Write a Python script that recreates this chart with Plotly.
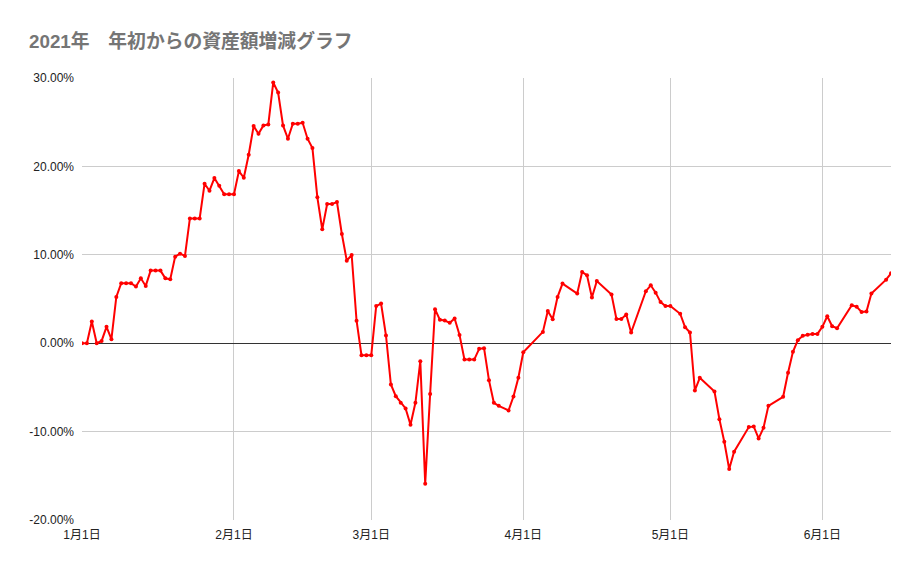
import plotly.graph_objects as go

dates = [
    "2021-01-01", "2021-01-02", "2021-01-03", "2021-01-04", "2021-01-05", "2021-01-06", "2021-01-07",
    "2021-01-08", "2021-01-09", "2021-01-10", "2021-01-11", "2021-01-12", "2021-01-13", "2021-01-14",
    "2021-01-15", "2021-01-16", "2021-01-17", "2021-01-18", "2021-01-19", "2021-01-20", "2021-01-21",
    "2021-01-22", "2021-01-23", "2021-01-24", "2021-01-25", "2021-01-26", "2021-01-27", "2021-01-28",
    "2021-01-29", "2021-01-30", "2021-01-31",
    "2021-02-01", "2021-02-02", "2021-02-03", "2021-02-04", "2021-02-05", "2021-02-06", "2021-02-07",
    "2021-02-08", "2021-02-09", "2021-02-10", "2021-02-11", "2021-02-12", "2021-02-13", "2021-02-14",
    "2021-02-15", "2021-02-16", "2021-02-17", "2021-02-18", "2021-02-19", "2021-02-20", "2021-02-21",
    "2021-02-22", "2021-02-23", "2021-02-24", "2021-02-25", "2021-02-26", "2021-02-27", "2021-02-28",
    "2021-03-01", "2021-03-02", "2021-03-03", "2021-03-04", "2021-03-05", "2021-03-06", "2021-03-07",
    "2021-03-08", "2021-03-09", "2021-03-10", "2021-03-11", "2021-03-12", "2021-03-13", "2021-03-14",
    "2021-03-15", "2021-03-16", "2021-03-17", "2021-03-18", "2021-03-19", "2021-03-20", "2021-03-21",
    "2021-03-22", "2021-03-23", "2021-03-24", "2021-03-25", "2021-03-26", "2021-03-27",
    "2021-03-29", "2021-03-30", "2021-03-31",
    "2021-04-01", "2021-04-05", "2021-04-06", "2021-04-07", "2021-04-08", "2021-04-09",
    "2021-04-12", "2021-04-13", "2021-04-14", "2021-04-15", "2021-04-16",
    "2021-04-19", "2021-04-20", "2021-04-21", "2021-04-22", "2021-04-23",
    "2021-04-26", "2021-04-27", "2021-04-28", "2021-04-29", "2021-04-30",
    "2021-05-01", "2021-05-03", "2021-05-04", "2021-05-05", "2021-05-06", "2021-05-07",
    "2021-05-10", "2021-05-11", "2021-05-12", "2021-05-13", "2021-05-14",
    "2021-05-17", "2021-05-18", "2021-05-19", "2021-05-20", "2021-05-21",
    "2021-05-24", "2021-05-25", "2021-05-26", "2021-05-27", "2021-05-28", "2021-05-29",
    "2021-05-30", "2021-05-31",
    "2021-06-01", "2021-06-02", "2021-06-03", "2021-06-04",
    "2021-06-07", "2021-06-08", "2021-06-09", "2021-06-10", "2021-06-11",
    "2021-06-14", "2021-06-15",
]

change_pct = [
    0.00, 0.00, 2.45, 0.00, 0.26, 1.85, 0.45,
    5.24, 6.78, 6.78, 6.78, 6.40, 7.34, 6.48,
    8.21, 8.21, 8.21, 7.34, 7.23, 9.79, 10.13,
    9.87, 14.12, 14.12, 14.12, 18.04, 17.25, 18.68,
    17.82, 16.85, 16.85,
    16.85, 19.47, 18.72, 21.32, 24.56, 23.69, 24.63,
    24.75, 29.49, 28.36, 24.63, 23.13, 24.82, 24.82,
    24.93, 23.13, 22.07, 16.50, 12.88, 15.74, 15.74,
    15.97, 12.35, 9.34, 9.98, 2.54, -1.36, -1.36,
    -1.36, 4.20, 4.48, 0.87, -4.67, -5.99, -6.74,
    -7.38, -9.23, -6.74, -2.03, -15.89, -5.76, 3.84,
    2.64, 2.56, 2.30, 2.79, 0.94, -1.85, -1.85,
    -1.85, -0.64, -0.56, -4.18, -6.74, -7.08,
    -7.61, -6.03, -3.90,
    -1.03, 1.28, 3.65, 2.71, 5.24, 6.74,
    5.61, 8.06, 7.68, 5.16, 7.04,
    5.50, 2.75, 2.75, 3.24, 1.21,
    5.88, 6.55, 5.72, 4.65, 4.20,
    4.20, 3.33, 1.81, 1.21, -5.35, -3.92,
    -5.46, -8.59, -11.15, -14.24, -12.28,
    -9.49, -9.42, -10.77, -9.57, -7.08,
    -6.06, -3.35, -0.98, 0.34, 0.83, 0.95,
    1.05, 1.05,
    1.85, 3.05, 1.92, 1.69,
    4.29, 4.11, 3.54, 3.58, 5.61,
    7.19, 7.91,
]

x_tick_vals = ["2021-01-01", "2021-02-01", "2021-03-01", "2021-04-01", "2021-05-01", "2021-06-01"]
x_tick_text = ["1月1日", "2月1日", "3月1日", "4月1日", "5月1日", "6月1日"]
y_tick_vals = [-20, -10, 0, 10, 20, 30]
y_tick_text = ["-20.00%", "-10.00%", "0.00%", "10.00%", "20.00%", "30.00%"]

title_text = "2021年　年初からの資産額増減グラフ"

FONT = "Liberation Sans, Arial, Noto Sans CJK JP, sans-serif"

# the page body adds an ~8px offset, so the figure is sized to the visible area
W, H = 913, 561

fig = go.Figure()
fig.add_trace(go.Scatter(
    x=dates, y=change_pct, mode="lines+markers",
    line=dict(color="#ff0000", width=2),
    marker=dict(color="#ff0000", size=4),
    hoverinfo="x+y",
))

fig.update_layout(
    width=W, height=H,
    paper_bgcolor="white", plot_bgcolor="white",
    margin=dict(l=74, r=30, t=70, b=49, autoexpand=False),
    showlegend=False,
    font=dict(family=FONT, size=12, color="#222222"),
    title=dict(
        text="<b>" + title_text + "</b>",
        x=21 / W, xref="container", xanchor="left",
        y=1 - 33 / H, yref="container", yanchor="middle",
        font=dict(family="Liberation Sans, Noto Sans CJK JP, sans-serif", size=18.8, color="#757575"),
    ),
    xaxis=dict(
        type="date",
        range=["2021-01-01", "2021-06-15"],
        tickmode="array", tickvals=x_tick_vals, ticktext=x_tick_text,
        showgrid=True, gridcolor="#cccccc", gridwidth=1,
        zeroline=False, showline=False, ticks="", ticklabelstandoff=6,
        tickfont=dict(family="Liberation Sans, Noto Sans CJK JP, sans-serif", size=12, color="#222222"),
    ),
    yaxis=dict(
        range=[-20, 30],
        tickmode="array", tickvals=y_tick_vals, ticktext=y_tick_text,
        showgrid=True, gridcolor="#cccccc", gridwidth=1,
        zeroline=True, zerolinecolor="#333333", zerolinewidth=1,
        showline=False, ticks="", ticklabelstandoff=7,
        tickfont=dict(family=FONT, size=12, color="#222222"),
    ),
)

fig.write_html("out.html")
